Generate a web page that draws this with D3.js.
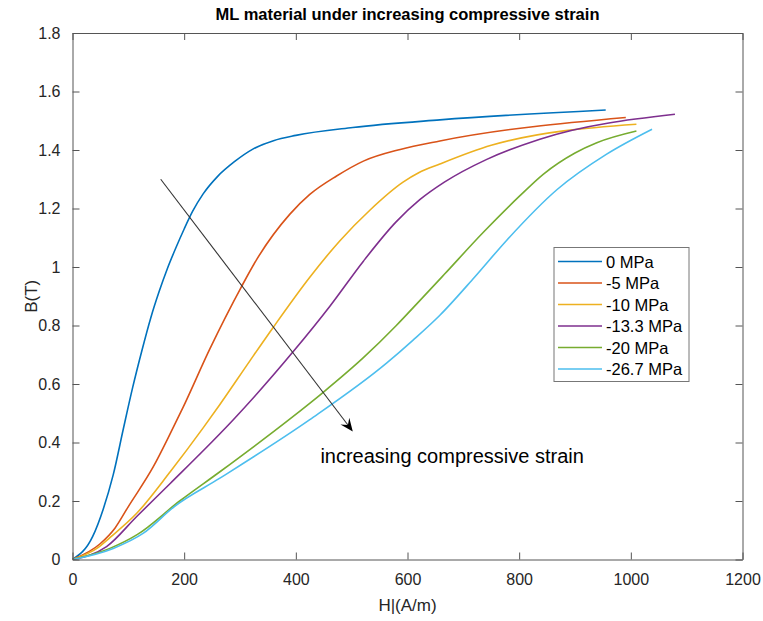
<!DOCTYPE html>
<html>
<head>
<meta charset="utf-8">
<script src="https://cdn.jsdelivr.net/npm/d3@7"></script>
<style>
  body { margin: 0; background: #fff; }
  text { font-family: "Liberation Sans", Arial, Helvetica, sans-serif; }
</style>
</head>
<body>
<svg id="chart" width="763" height="621"></svg>
<script>
// B-H magnetisation curves, one per applied stress level
const seriesLabels = ["0 MPa", "-5 MPa", "-10 MPa", "-13.3 MPa", "-20 MPa", "-26.7 MPa"];
const seriesColors = ["#0072BD", "#D95319", "#EDB120", "#7E2F8E", "#77AC30", "#4DBEEE"];

const hStress0 = [0, 36, 55, 73, 91, 108, 124, 140, 155, 170, 185, 200, 215, 234, 260, 290, 323, 360, 400, 502, 658, 955];
const bStress0 = [0, 0.078, 0.172, 0.29, 0.446, 0.59, 0.712, 0.825, 0.915, 0.995, 1.065, 1.13, 1.19, 1.25, 1.31, 1.36, 1.403, 1.432, 1.45, 1.477, 1.503, 1.537];

const hStress5 = [0, 49, 76, 100, 145, 175, 198, 246, 303, 330, 389, 425, 473, 521, 587, 658, 991];
const bStress5 = [0, 0.053, 0.107, 0.181, 0.318, 0.43, 0.52, 0.72, 0.934, 1.026, 1.18, 1.248, 1.311, 1.362, 1.402, 1.431, 1.511];

const hStress10 = [0, 45, 67, 115, 175, 234, 264, 318, 360, 425, 479, 533, 592, 620, 658, 750, 1010];
const bStress10 = [0, 0.04, 0.075, 0.158, 0.3, 0.45, 0.53, 0.68, 0.795, 0.965, 1.09, 1.195, 1.29, 1.322, 1.352, 1.416, 1.488];

const hStress13 = [0, 61, 115, 175, 264, 288, 395, 461, 521, 580, 622, 666, 742, 837, 1079];
const bStress13 = [0, 0.044, 0.147, 0.26, 0.43, 0.478, 0.71, 0.866, 1.02, 1.155, 1.23, 1.29, 1.368, 1.437, 1.522];

const hStress20 = [0, 67, 115, 192, 264, 389, 448, 521, 580, 622, 666, 735, 801, 843, 900, 939, 1010];
const bStress20 = [0, 0.038, 0.084, 0.2, 0.3, 0.48, 0.57, 0.69, 0.8, 0.885, 0.975, 1.117, 1.243, 1.317, 1.39, 1.425, 1.465];

const hStress27 = [0, 73, 127, 183, 264, 425, 563, 610, 658, 720, 777, 868, 956, 1038];
const bStress27 = [0, 0.038, 0.09, 0.182, 0.278, 0.478, 0.672, 0.75, 0.835, 0.965, 1.09, 1.265, 1.385, 1.471];

const xTicks = [0, 200, 400, 600, 800, 1000, 1200];
const yTicks = [0, 0.2, 0.4, 0.6, 0.8, 1, 1.2, 1.4, 1.6, 1.8];

// annotation arrow (data units) and its caption
const arrowH = [158, 502];
const arrowB = [1.30, 0.438];
const noteText = "increasing compressive strain";
const noteH = 444, noteB = 0.33;

const hSets = [hStress0, hStress5, hStress10, hStress13, hStress20, hStress27];
const bSets = [bStress0, bStress5, bStress10, bStress13, bStress20, bStress27];
const series = seriesLabels.map((name, i) => ({
  name, color: seriesColors[i],
  points: hSets[i].map((h, j) => [h, bSets[i][j]])
}));

const svg = d3.select("#chart");
const W = 763, Ht = 621;
const margin = { left: 72.5, right: 20.5, top: 33, bottom: 61.5 };
const x = d3.scaleLinear().domain([0, 1200]).range([margin.left, W - margin.right]);
const y = d3.scaleLinear().domain([0, 1.8]).range([Ht - margin.bottom, margin.top]);

const axisColor = "#555";
const labelColor = "#262626";
const tickLen = 7;
const fmtY = d => String(+d.toFixed(1));

svg.append("rect").attr("width", W).attr("height", Ht).attr("fill", "#fff");

// curves (clipped to the axes box)
svg.append("clipPath").attr("id", "plotClip").append("rect")
  .attr("x", x(0)).attr("y", y(1.8)).attr("width", x(1200) - x(0)).attr("height", y(0) - y(1.8));

const line = d3.line().x(d => x(d[0])).y(d => y(d[1])).curve(d3.curveMonotoneX);
svg.append("g").attr("clip-path", "url(#plotClip)")
  .selectAll("path").data(series).join("path")
  .attr("d", d => line(d.points))
  .attr("fill", "none")
  .attr("stroke", d => d.color)
  .attr("stroke-width", 1.6)
  .attr("stroke-linejoin", "round");

// axes: bottom/left with labels, top/right mirrored ticks, ticks pointing inward
function styleAxis(g) {
  g.select(".domain").attr("stroke", axisColor).attr("stroke-width", 1);
  g.selectAll(".tick line").attr("stroke", axisColor);
  g.selectAll(".tick text").attr("fill", labelColor).attr("font-size", 16)
    .attr("font-family", "'Liberation Sans', Arial, sans-serif");
}
const gx = svg.append("g").attr("transform", `translate(0,${y(0)})`)
  .call(d3.axisBottom(x).tickValues(xTicks).tickSizeInner(-tickLen).tickSizeOuter(0).tickPadding(14).tickFormat(d3.format("d")));
styleAxis(gx);
const gxt = svg.append("g").attr("transform", `translate(0,${y(1.8)})`)
  .call(d3.axisTop(x).tickValues(xTicks).tickSizeInner(-tickLen).tickSizeOuter(0).tickFormat(""));
styleAxis(gxt);
const gy = svg.append("g").attr("transform", `translate(${x(0)},0)`)
  .call(d3.axisLeft(y).tickValues(yTicks).tickSizeInner(-tickLen).tickSizeOuter(0).tickPadding(12).tickFormat(fmtY));
styleAxis(gy);
const gyr = svg.append("g").attr("transform", `translate(${x(1200)},0)`)
  .call(d3.axisRight(y).tickValues(yTicks).tickSizeInner(-tickLen).tickSizeOuter(0).tickFormat(""));
styleAxis(gyr);

// axis titles
svg.append("text").attr("x", (x(0) + x(1200)) / 2).attr("y", 611)
  .attr("text-anchor", "middle").attr("font-size", 17).attr("fill", labelColor).text("H|(A/m)");
svg.append("text").attr("transform", `translate(37,${(y(0) + y(1.8)) / 2}) rotate(-90)`)
  .attr("text-anchor", "middle").attr("font-size", 17).attr("fill", labelColor).text("B(T)");

// chart title
svg.append("text").attr("x", (x(0) + x(1200)) / 2).attr("y", 20)
  .attr("text-anchor", "middle").attr("font-size", 16.5).attr("font-weight", "bold")
  .attr("fill", "#000").text("ML material under increasing compressive strain");

// annotation arrow
const ax0 = x(arrowH[0]), ay0 = y(arrowB[0]), ax1 = x(arrowH[1]), ay1 = y(arrowB[1]);
const len = Math.hypot(ax1 - ax0, ay1 - ay0);
const ux = (ax1 - ax0) / len, uy = (ay1 - ay0) / len;
const nx = -uy, ny = ux;
const headL = 13, headW = 5.5, notch = 8;
svg.append("line").attr("x1", ax0).attr("y1", ay0)
  .attr("x2", ax1 - ux * notch).attr("y2", ay1 - uy * notch)
  .attr("stroke", "#333").attr("stroke-width", 1.1);
const headPts = [
  [ax1, ay1],
  [ax1 - ux * headL + nx * headW, ay1 - uy * headL + ny * headW],
  [ax1 - ux * notch, ay1 - uy * notch],
  [ax1 - ux * headL - nx * headW, ay1 - uy * headL - ny * headW]
];
svg.append("path").attr("d", "M" + headPts.map(p => p.join(",")).join("L") + "Z").attr("fill", "#000");

svg.append("text").attr("x", x(noteH)).attr("y", y(noteB))
  .attr("font-size", 20).attr("fill", "#000").text(noteText);

// legend
const legX = 554, legY = 247.5, legW = 135, rowH = 21.5;
const legend = svg.append("g");
legend.append("rect").attr("x", legX).attr("y", legY).attr("width", legW)
  .attr("height", rowH * series.length + 5).attr("fill", "#fff").attr("stroke", "#777").attr("stroke-width", 1);
const rows = legend.selectAll("g.row").data(series).join("g").attr("class", "row")
  .attr("transform", (d, i) => `translate(${legX},${legY + 14 + i * rowH})`);
rows.append("line").attr("x1", 4).attr("x2", 48).attr("stroke", d => d.color).attr("stroke-width", 1.6);
rows.append("text").attr("x", 52).attr("y", 6).attr("font-size", 16.5).attr("fill", "#000").text(d => d.name);
</script>
</body>
</html>
